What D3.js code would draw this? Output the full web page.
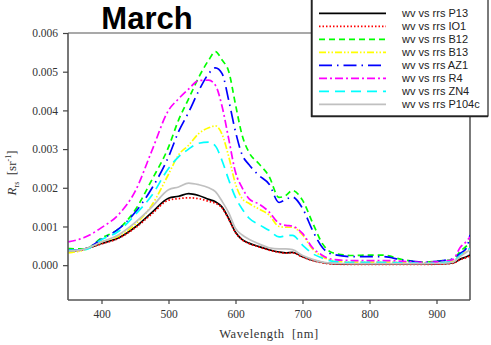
<!DOCTYPE html>
<html><head><meta charset="utf-8">
<script src="https://cdn.jsdelivr.net/npm/d3@7"></script>
<style>body{margin:0;background:#fff;} svg{display:block;}</style>
</head><body>
<svg id="c" width="491" height="345"></svg>
<script>
const wavelengths = [350,375,400,425,450,475,500,515,530,545,560,570,580,590,600,610,620,635,650,665,675,685,700,715,730,745,775,800,820,850,880,910,925,935,945,950];
const P13   = [0.00035,0.00042,0.00056,0.00070,0.00098,0.00136,0.00173,0.00178,0.00185,0.00180,0.00170,0.00164,0.00150,0.00120,0.00085,0.00066,0.00057,0.00048,0.00040,0.00034,0.00032,0.00033,0.00022,0.00013,0.00007,0.00004,0.00003,0.00003,0.00003,0.00003,0.00003,0.00004,0.00006,0.00015,0.00022,0.00026];
const IO1   = [0.00034,0.00041,0.00055,0.00069,0.00096,0.00132,0.00168,0.00172,0.00174,0.00172,0.00165,0.00160,0.00148,0.00118,0.00084,0.00065,0.00056,0.00047,0.00039,0.00033,0.00031,0.00032,0.00021,0.00012,0.00006,0.00003,0.00002,0.00002,0.00002,0.00002,0.00002,0.00003,0.00005,0.00014,0.00020,0.00024];
const B12   = [0.00043,0.00042,0.00070,0.00093,0.00142,0.00220,0.00305,0.00375,0.00430,0.00485,0.00530,0.00552,0.00530,0.00500,0.00415,0.00335,0.00292,0.00262,0.00230,0.00175,0.00180,0.00193,0.00168,0.00110,0.00055,0.00032,0.00025,0.00026,0.00026,0.00014,0.00008,0.00012,0.00015,0.00035,0.00050,0.00060];
const B13   = [0.00032,0.00040,0.00060,0.00075,0.00105,0.00155,0.00235,0.00285,0.00310,0.00340,0.00355,0.00360,0.00338,0.00280,0.00210,0.00172,0.00160,0.00145,0.00130,0.00100,0.00098,0.00098,0.00078,0.00042,0.00022,0.00012,0.00008,0.00008,0.00008,0.00007,0.00006,0.00008,0.00010,0.00025,0.00035,0.00040];
const AZ1   = [0.00038,0.00042,0.00067,0.00093,0.00136,0.00198,0.00280,0.00345,0.00395,0.00450,0.00495,0.00510,0.00495,0.00425,0.00345,0.00285,0.00260,0.00232,0.00210,0.00162,0.00170,0.00176,0.00147,0.00090,0.00045,0.00028,0.00022,0.00022,0.00022,0.00013,0.00008,0.00012,0.00017,0.00030,0.00045,0.00078];
const R4    = [0.00060,0.00072,0.00097,0.00130,0.00190,0.00295,0.00400,0.00430,0.00455,0.00477,0.00478,0.00465,0.00410,0.00325,0.00240,0.00200,0.00172,0.00158,0.00138,0.00108,0.00103,0.00101,0.00082,0.00045,0.00025,0.00015,0.00012,0.00012,0.00012,0.00010,0.00007,0.00010,0.00015,0.00045,0.00062,0.00073];
const ZN4   = [0.00038,0.00040,0.00066,0.00087,0.00130,0.00180,0.00250,0.00280,0.00300,0.00315,0.00318,0.00308,0.00270,0.00220,0.00175,0.00145,0.00122,0.00105,0.00090,0.00073,0.00076,0.00077,0.00052,0.00030,0.00018,0.00010,0.00007,0.00007,0.00007,0.00006,0.00005,0.00007,0.00010,0.00025,0.00038,0.00043];
const P104c = [0.00036,0.00042,0.00060,0.00078,0.00110,0.00150,0.00195,0.00202,0.00212,0.00208,0.00200,0.00190,0.00165,0.00135,0.00095,0.00078,0.00067,0.00055,0.00045,0.00042,0.00042,0.00040,0.00025,0.00015,0.00008,0.00005,0.00004,0.00004,0.00004,0.00004,0.00004,0.00005,0.00008,0.00022,0.00034,0.00040];

const seriesNames = ["wv vs rrs P13","wv vs rrs IO1","wv vs rrs B12","wv vs rrs B13","wv vs rrs AZ1","wv vs rrs R4","wv vs rrs ZN4","wv vs rrs P104c"];
const seriesValues = [P13, IO1, B12, B13, AZ1, R4, ZN4, P104c];
const seriesColors = ["#000000","#ff0000","#00ff00","#ffff00","#0000ff","#ff00ff","#00ffff","#c0c0c0"];
const seriesDash = [null,"1.5,2","6,4","7,2,1.5,2,1.5,2","13,5,1.5,5","8,3,2,3","10,6",null];
const xTicks = [400,500,600,700,800,900];
const yTicks = [0.000,0.001,0.002,0.003,0.004,0.005,0.006];

const svg = d3.select("#c");
const L = 68, R = 470, T = 33, B = 300;
const x = d3.scaleLinear().domain([350,950]).range([L,R]);
const y = d3.scaleLinear().domain([-0.0009,0.006]).range([B,T]);

svg.append("clipPath").attr("id","pc").append("rect")
  .attr("x",L).attr("y",T-10).attr("width",R-L).attr("height",B-T+10);

svg.append("line").attr("x1",L).attr("x2",R).attr("y1",T).attr("y2",T).attr("stroke","#555").attr("stroke-width",1.2);
svg.append("line").attr("x1",R).attr("x2",R).attr("y1",T).attr("y2",B).attr("stroke","#222").attr("stroke-width",1.2);

const line = d3.line().x((d,i)=>x(wavelengths[i])).y(d=>y(d)).curve(d3.curveMonotoneX);
const g = svg.append("g").attr("clip-path","url(#pc)");
seriesValues.forEach((vals,k)=>{
  g.append("path").datum(vals).attr("d",line).attr("fill","none")
    .attr("stroke",seriesColors[k]).attr("stroke-width",1.7)
    .attr("stroke-dasharray",seriesDash[k]);
});

const xa = svg.append("g").attr("transform",`translate(0,${B})`)
  .call(d3.axisBottom(x).tickValues(xTicks).tickSize(4).tickSizeOuter(0).tickPadding(6));
const ya = svg.append("g").attr("transform",`translate(${L},0)`)
  .call(d3.axisLeft(y).tickValues(yTicks).tickFormat(d3.format(".3f")).tickSize(5).tickSizeOuter(0).tickPadding(5));
[xa,ya].forEach(a=>{
  a.select(".domain").attr("stroke","#555").attr("stroke-width",1.6);
  a.selectAll(".tick line").attr("stroke","#444").attr("stroke-width",1.2);
  a.selectAll(".tick text").attr("font-family","'Liberation Serif','Times New Roman',serif")
    .attr("font-size",11.5).attr("fill","#333");
});
ya.select(".domain").attr("d",`M0,${T}V${B}`);
xa.select(".domain").attr("d",`M${L},0H${R}`);

svg.append("text").attr("x",147).attr("y",29).attr("text-anchor","middle")
  .attr("font-family","Arial,'Liberation Sans',sans-serif").attr("font-weight","bold")
  .attr("font-size",31).attr("fill","#000").text("March");

svg.append("text").attr("x",269).attr("y",338).attr("text-anchor","middle")
  .attr("font-family","'Liberation Serif','Times New Roman',serif").attr("font-size",12.5)
  .attr("letter-spacing",0.6).attr("fill","#333")
  .style("white-space","pre").text("Wavelength  [nm]");

const yl = svg.append("text").attr("transform","translate(16,173) rotate(-90)").attr("text-anchor","middle")
  .attr("font-family","'Liberation Serif','Times New Roman',serif").attr("font-size",13).attr("fill","#333")
  .style("white-space","pre");
yl.append("tspan").attr("font-style","italic").text("R");
yl.append("tspan").attr("font-size",8).attr("dy",3).text("rs");
yl.append("tspan").attr("dy",-3).text("  [sr");
yl.append("tspan").attr("font-size",8).attr("dy",-5).text("-1");
yl.append("tspan").attr("dy",5).text("]");

const lg = svg.append("g");
lg.append("rect").attr("x",312).attr("y",-2).attr("width",176).attr("height",118)
  .attr("fill","#fff").attr("stroke","#222").attr("stroke-width",1.2);
lg.append("line").attr("x1",311.5).attr("x2",311.5).attr("y1",0).attr("y2",117).attr("stroke","#222").attr("stroke-width",1.5);
lg.append("line").attr("x1",311).attr("x2",488).attr("y1",116.5).attr("y2",116.5).attr("stroke","#222").attr("stroke-width",1.5);
seriesNames.forEach((n,k)=>{
  const yy = 13.3 + k*13;
  lg.append("line").attr("x1",319).attr("x2",386).attr("y1",yy).attr("y2",yy)
    .attr("stroke",seriesColors[k]).attr("stroke-width",1.7).attr("stroke-dasharray",seriesDash[k]);
  lg.append("text").attr("x",402).attr("y",yy+4).attr("font-family","Arial,'Liberation Sans',sans-serif")
    .attr("font-size",11).attr("fill","#222").text(n);
});
</script>
</body></html>
